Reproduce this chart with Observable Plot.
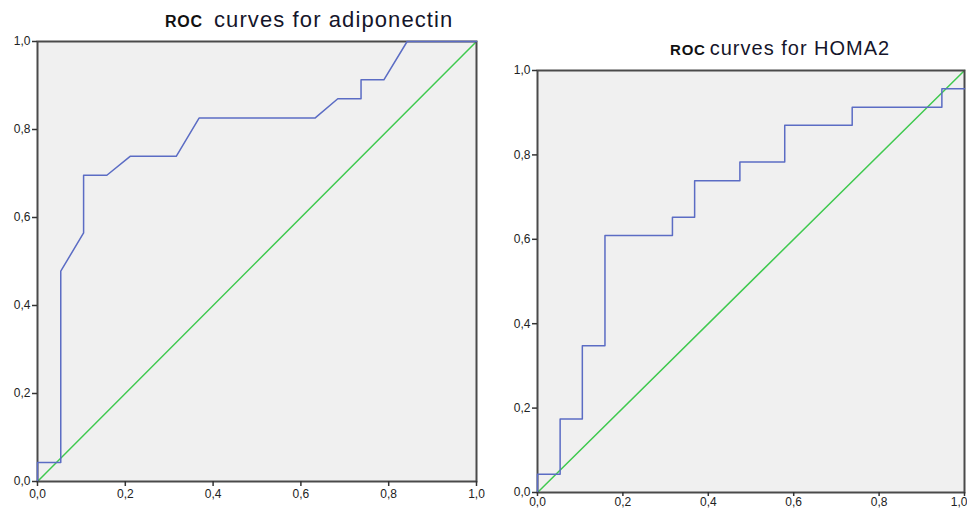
<!DOCTYPE html>
<html>
<head>
<meta charset="utf-8">
<script src="https://cdn.jsdelivr.net/npm/d3@7"></script>
<script src="https://cdn.jsdelivr.net/npm/@observablehq/plot@0.6"></script>
<style>
  html, body { margin: 0; padding: 0; background: #ffffff; overflow: hidden; }
  #wrap { position: relative; width: 967px; height: 510px; font-family: "Liberation Sans", Arial, sans-serif; }
  .chart { position: absolute; top: 0; }
  .title { position: absolute; white-space: nowrap; color: #15152a; line-height: normal; }
  .title .roc { font-weight: bold; color: #111; letter-spacing: 0.8px; }
</style>
</head>
<body>
<div id="wrap">
  <div class="title" id="t1" style="left:165px; top:7px;"><span class="roc" style="font-size:16px;">ROC</span><span style="font-size:22px; letter-spacing:1.1px; margin-left:11px;">curves for adiponectin</span></div>
  <div class="title" id="t2" style="left:670px; top:37px;"><span class="roc" style="font-size:15px;">ROC</span><span style="font-size:20px; letter-spacing:1px; margin-left:4px;">curves for HOMA2</span></div>
  <div class="chart" id="c1" style="left:0px;"></div>
  <div class="chart" id="c2" style="left:490px;"></div>
</div>
<script>
// ROC curve for adiponectin (1 - specificity, sensitivity)
const adipoFPR = [0, 0, 0.053, 0.053, 0.105, 0.105, 0.158, 0.211, 0.316, 0.368, 0.632, 0.684, 0.737, 0.737, 0.789, 0.842, 1.0];
const adipoTPR = [0, 0.043, 0.043, 0.478, 0.565, 0.696, 0.696, 0.739, 0.739, 0.826, 0.826, 0.870, 0.870, 0.913, 0.913, 1.0, 1.0];

// ROC curve for HOMA2
const homaFPR = [0, 0, 0.053, 0.053, 0.105, 0.105, 0.158, 0.158, 0.316, 0.316, 0.368, 0.368, 0.474, 0.474, 0.579, 0.579, 0.737, 0.737, 0.947, 0.947, 1.0];
const homaTPR = [0, 0.043, 0.043, 0.174, 0.174, 0.348, 0.348, 0.609, 0.609, 0.652, 0.652, 0.739, 0.739, 0.783, 0.783, 0.870, 0.870, 0.913, 0.913, 0.957, 0.957];

// Reference diagonal
const diagX = [0, 1];
const diagY = [0, 1];

const tickValues = [0, 0.2, 0.4, 0.6, 0.8, 1.0];
const tickLabels = ["0,0", "0,2", "0,4", "0,6", "0,8", "1,0"];

const curveColor = "#5b6cc4";
const diagColor = "#3fc94f";
const fmt = v => tickLabels[tickValues.findIndex(t => Math.abs(t - v) < 1e-9)];

function rocChart(fpr, tpr, opts) {
  const curve = fpr.map((x, i) => ({x, y: tpr[i]}));
  const diag = diagX.map((x, i) => ({x, y: diagY[i]}));
  const xAxes = opts.tight
    ? [
        Plot.axisX({ticks: tickValues, tickFormat: fmt, text: null, tickSize: 4, label: null, stroke: "#333", strokeWidth: 1.5}),
        Plot.axisX({ticks: tickValues.slice(0, -1), tickFormat: fmt, tickSize: 0, tickPadding: 5, label: null}),
        Plot.axisX({ticks: tickValues.slice(-1), tickFormat: fmt, tickSize: 0, tickPadding: 5, textAnchor: "end", dx: 3, label: null})
      ]
    : [
        Plot.axisX({ticks: tickValues, tickFormat: fmt, tickSize: 5, tickPadding: 3, label: null, stroke: "#333", strokeWidth: 1.5})
      ];
  return Plot.plot({
    width: opts.width,
    height: 510,
    marginLeft: opts.ml,
    marginRight: opts.mr,
    marginTop: opts.mt,
    marginBottom: opts.mb,
    style: {background: "transparent", fontFamily: "Liberation Sans, Arial, sans-serif", fontSize: "12px", color: "#222", overflow: "visible"},
    x: {domain: [0, 1]},
    y: {domain: [0, 1]},
    marks: [
      Plot.frame({fill: "#f0f0f0", stroke: "none"}),
      Plot.line(diag, {x: "x", y: "y", stroke: diagColor, strokeWidth: 1.5}),
      Plot.frame({stroke: "#4a4a4a", strokeWidth: 2}),
      Plot.line(curve, {x: "x", y: "y", stroke: curveColor, strokeWidth: 1.5}),
      ...xAxes,
      Plot.axisY({ticks: tickValues, tickFormat: fmt, tickSize: 5, tickPadding: 2, label: null, stroke: "#333", strokeWidth: 1.5})
    ]
  });
}

document.getElementById("c1").appendChild(rocChart(adipoFPR, adipoTPR, {width: 490, ml: 37, mr: 14, mt: 41, mb: 29, tight: false}));
document.getElementById("c2").appendChild(rocChart(homaFPR, homaTPR, {width: 477, ml: 47, mr: 3, mt: 70, mb: 18, tight: true}));
</script>
</body>
</html>
